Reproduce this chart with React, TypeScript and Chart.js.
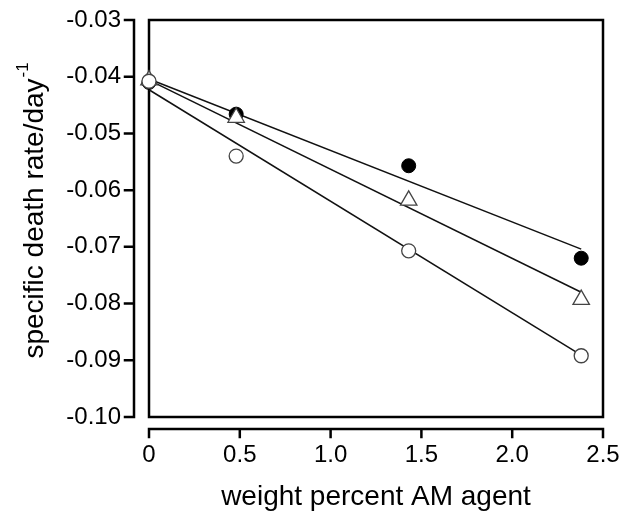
import React, { useEffect, useRef } from 'react';
import { Chart, registerables } from 'chart.js';

Chart.register(...registerables);

// ---- data ----
const doses = [0, 0.48, 1.43, 2.38];
const filledRates = [-0.041, -0.0466, -0.0557, -0.072];
const triangleRates = [-0.0406, -0.0472, -0.0618, -0.0793];
const openRates = [-0.0408, -0.054, -0.0707, -0.0892];

const fitDoses = [0, 2.38];
const filledFit = [-0.0404, -0.0704];
const triangleFit = [-0.0406, -0.078];
const openFit = [-0.0423, -0.0891];

const xTicks = [0, 0.5, 1.0, 1.5, 2.0, 2.5];
const xTickLabels = ['0', '0.5', '1.0', '1.5', '2.0', '2.5'];
const yTicks = [-0.1, -0.09, -0.08, -0.07, -0.06, -0.05, -0.04, -0.03];
const yTickLabels = ['-0.10', '-0.09', '-0.08', '-0.07', '-0.06', '-0.05', '-0.04', '-0.03'];

const xTitle = 'weight percent AM agent';
const yTitle = 'specific death rate/day';
const yTitleSup = '-1';

const FONT = '"Liberation Sans", Arial, Helvetica, sans-serif';
const TICK_SIZE = 24;
const TITLE_SIZE = 28;
const Y_TITLE_PAD = 18;

function pts(xs: number[], ys: number[]) {
  return xs.map((x, i) => ({ x, y: ys[i] }));
}

const framePlugin = {
  id: 'frame',
  beforeDatasetsDraw(chart: any) {
    const { ctx, chartArea: a, scales } = chart;
    const xs = scales.x;
    const ys = scales.y;
    ctx.save();
    ctx.strokeStyle = '#000';
    ctx.lineWidth = 2.5;
    ctx.lineCap = 'square';
    ctx.strokeRect(a.left, a.top, a.right - a.left, a.bottom - a.top);

    // detached y axis
    const ax = a.left - 15;
    ctx.beginPath();
    ctx.moveTo(ax, ys.getPixelForValue(yTicks[0]));
    ctx.lineTo(ax, ys.getPixelForValue(yTicks[yTicks.length - 1]));
    yTicks.forEach((v) => {
      const py = ys.getPixelForValue(v);
      ctx.moveTo(ax, py);
      ctx.lineTo(ax - 9, py);
    });
    // detached x axis
    const ay = a.bottom + 12;
    ctx.moveTo(xs.getPixelForValue(xTicks[0]), ay);
    ctx.lineTo(xs.getPixelForValue(xTicks[xTicks.length - 1]), ay);
    xTicks.forEach((v) => {
      const px = xs.getPixelForValue(v);
      ctx.moveTo(px, ay);
      ctx.lineTo(px, ay + 8);
    });
    ctx.stroke();
    ctx.restore();
  },
  afterDraw(chart: any) {
    const { ctx, scales } = chart;
    const ys = scales.y;
    ctx.save();
    ctx.font = `${TITLE_SIZE}px ${FONT}`;
    const w = ctx.measureText(yTitle).width;
    const midX = ys.left + Y_TITLE_PAD + (TITLE_SIZE * 1.2) / 2;
    const cy = (ys.top + ys.bottom) / 2;
    ctx.translate(midX, cy - w / 2);
    ctx.rotate(-Math.PI / 2);
    ctx.font = `17px ${FONT}`;
    ctx.fillStyle = '#000';
    ctx.textAlign = 'left';
    ctx.textBaseline = 'middle';
    ctx.fillText(yTitleSup, 1, -11);
    ctx.restore();
  },
};

export default function App() {
  const ref = useRef<HTMLCanvasElement | null>(null);

  useEffect(() => {
    if (!ref.current) return;
    Chart.defaults.font.family = FONT;
    Chart.defaults.color = '#000';
    const lineDs = (data: number[]) => ({
      type: 'line' as const,
      data: pts(fitDoses, data),
      borderColor: '#111',
      borderWidth: 1.5,
      pointRadius: 0,
      showLine: true,
      fill: false,
      clip: false as any,
    });
    const chart = new Chart(ref.current, {
      type: 'scatter',
      data: {
        datasets: [
          {
            data: pts(doses, openRates),
            pointStyle: 'circle',
            pointRadius: 7,
            backgroundColor: '#fff',
            borderColor: '#444',
            borderWidth: 1.3,
            clip: false as any,
          },
          {
            data: pts(doses, triangleRates),
            pointStyle: 'triangle',
            pointRadius: 9.5,
            backgroundColor: '#fff',
            borderColor: '#444',
            borderWidth: 1.3,
            clip: false as any,
          },
          {
            data: pts(doses, filledRates),
            pointStyle: 'circle',
            pointRadius: 7,
            backgroundColor: '#000',
            borderColor: '#000',
            borderWidth: 1,
            clip: false as any,
          },
          lineDs(filledFit) as any,
          lineDs(triangleFit) as any,
          lineDs(openFit) as any,
        ],
      },
      options: {
        animation: false,
        responsive: false,
        devicePixelRatio: 1,
        layout: { padding: { top: 20, right: 23, left: 0, bottom: 0 } },
        plugins: { legend: { display: false }, tooltip: { enabled: false } },
        scales: {
          x: {
            type: 'linear',
            min: 0,
            max: 2.5,
            grid: { display: false, drawTicks: false },
            border: { display: false },
            afterBuildTicks: (s: any) => {
              s.ticks = xTicks.map((v) => ({ value: v }));
            },
            afterFit: (s: any) => {
              s.height = 105;
              s.paddingLeft = 0;
              s.paddingRight = 0;
              s.paddingTop = 0;
              s.paddingBottom = 0;
            },
            ticks: {
              font: { size: TICK_SIZE },
              padding: 24,
              maxRotation: 0,
              autoSkip: false,
              callback: (_v: any, i: number) => xTickLabels[i],
            },
            title: {
              display: true,
              text: xTitle,
              font: { size: TITLE_SIZE },
              padding: { top: 0, bottom: 8 },
            },
          },
          y: {
            type: 'linear',
            min: -0.1,
            max: -0.03,
            grid: { display: false, drawTicks: false },
            border: { display: false },
            afterBuildTicks: (s: any) => {
              s.ticks = yTicks.map((v) => ({ value: v }));
            },
            afterFit: (s: any) => {
              s.width = 149;
              s.paddingLeft = 0;
              s.paddingRight = 0;
              s.paddingTop = 0;
              s.paddingBottom = 0;
            },
            ticks: {
              font: { size: TICK_SIZE },
              padding: 28,
              autoSkip: false,
              callback: (_v: any, i: number) => yTickLabels[i],
            },
            title: {
              display: true,
              text: yTitle,
              font: { size: TITLE_SIZE },
              padding: { top: Y_TITLE_PAD, bottom: 0 },
            },
          },
        },
      },
      plugins: [framePlugin],
    });
    return () => chart.destroy();
  }, []);

  return (
    <div style={{ position: 'fixed', left: 0, top: 0, width: 626, height: 522, background: '#fff' }}>
      <canvas ref={ref} width={626} height={522} style={{ width: 626, height: 522 }} />
    </div>
  );
}
